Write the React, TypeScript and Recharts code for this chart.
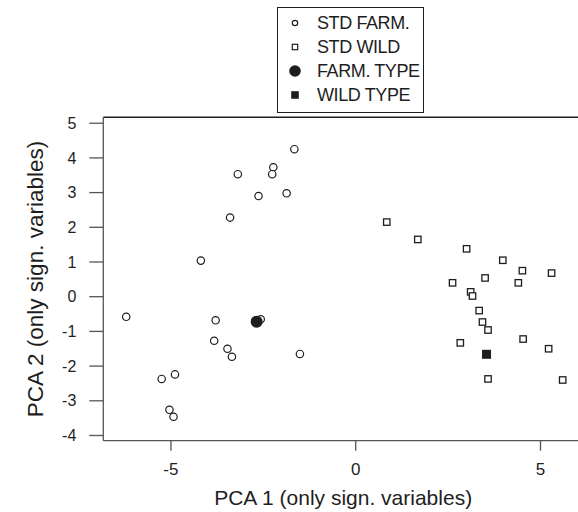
import React from "react";
import { ScatterChart, Scatter, XAxis, YAxis, ReferenceLine } from "recharts";

const stdFarm = [
  { x: -1.66, y: 4.25 }, { x: -2.23, y: 3.73 }, { x: -2.26, y: 3.53 },
  { x: -3.19, y: 3.53 }, { x: -2.63, y: 2.9 }, { x: -1.87, y: 2.98 },
  { x: -3.4, y: 2.28 }, { x: -4.19, y: 1.04 }, { x: -6.21, y: -0.58 },
  { x: -3.79, y: -0.68 }, { x: -2.57, y: -0.65 }, { x: -2.72, y: -0.7 },
  { x: -3.83, y: -1.27 }, { x: -3.47, y: -1.5 }, { x: -3.35, y: -1.73 },
  { x: -1.51, y: -1.65 }, { x: -5.25, y: -2.37 }, { x: -4.89, y: -2.24 },
  { x: -5.04, y: -3.26 }, { x: -4.93, y: -3.46 },
];

const stdWild = [
  { x: 0.84, y: 2.15 }, { x: 1.68, y: 1.65 }, { x: 3.0, y: 1.38 },
  { x: 3.98, y: 1.05 }, { x: 4.51, y: 0.75 }, { x: 5.3, y: 0.68 },
  { x: 3.5, y: 0.54 }, { x: 2.62, y: 0.4 }, { x: 4.4, y: 0.4 },
  { x: 3.11, y: 0.14 }, { x: 3.16, y: 0.02 }, { x: 3.34, y: -0.4 },
  { x: 3.43, y: -0.73 }, { x: 3.58, y: -0.96 }, { x: 2.83, y: -1.33 },
  { x: 4.53, y: -1.22 }, { x: 5.22, y: -1.5 }, { x: 3.58, y: -2.37 },
  { x: 5.6, y: -2.4 },
];

const farmType = [{ x: -2.68, y: -0.72 }];
const wildType = [{ x: 3.54, y: -1.66 }];

const xTicks = [-5, 0, 5];
const yTicks = [-4, -3, -2, -1, 0, 1, 2, 3, 4, 5];
const xDomain = [-6.83, 6.15];
const yDomain = [-4.15, 5.17];

const legendItems = ["STD FARM.", "STD WILD", "FARM. TYPE", "WILD TYPE"];

const FONT = '"Liberation Sans", Arial, sans-serif';
const INK = "#1e1e1e";
const AXIS = "#555";

const OpenCircle = (p: any) => (
  <circle cx={p.cx} cy={p.cy} r={3.7} fill="#fff" stroke={INK} strokeWidth={1.2} />
);
const OpenSquare = (p: any) => (
  <rect x={p.cx - 3.2} y={p.cy - 3.2} width={6.4} height={6.4} fill="#fff" stroke={INK} strokeWidth={1.3} />
);
const FilledCircle = (p: any) => <circle cx={p.cx} cy={p.cy} r={6} fill={INK} />;
const FilledSquare = (p: any) => (
  <rect x={p.cx - 4.5} y={p.cy - 4.5} width={9} height={9} fill={INK} />
);

const legendIcon = (i: number) => {
  if (i === 0) return <circle cx={8} cy={8} r={2.7} fill="none" stroke={INK} strokeWidth={1.2} />;
  if (i === 1) return <rect x={5.3} y={5.3} width={5.4} height={5.4} fill="none" stroke={INK} strokeWidth={1.2} />;
  if (i === 2) return <circle cx={8} cy={8} r={5.8} fill={INK} />;
  return <rect x={4.2} y={4.2} width={7.6} height={7.6} fill={INK} />;
};

const App = () => {
  return (
    <div style={{ position: "absolute", left: 0, top: 0, width: 578, height: 512, overflow: "hidden", background: "#fff", fontFamily: FONT }}>
      <ScatterChart width={583} height={512} margin={{ top: 117.3, right: 0, bottom: 0, left: 0 }}>
        <XAxis
          type="number"
          dataKey="x"
          domain={xDomain}
          ticks={xTicks}
          interval={0}
          allowDataOverflow
          height={71.3}
          tickSize={10}
          tickMargin={12}
          axisLine={{ stroke: AXIS, strokeWidth: 1.3 }}
          tickLine={{ stroke: AXIS, strokeWidth: 1.3 }}
          tick={{ fill: INK, fontSize: 17, fontFamily: FONT }}
          label={{
            content: (props: any) => {
              const vb = props.viewBox;
              return (
                <text x={vb.x + vb.width / 2} y={505} textAnchor="middle" fill={INK} fontSize={21} fontFamily={FONT}>
                  PCA 1 (only sign. variables)
                </text>
              );
            },
          }}
        />
        <YAxis
          type="number"
          dataKey="y"
          domain={yDomain}
          ticks={yTicks}
          interval={0}
          allowDataOverflow
          width={103.3}
          tickSize={14}
          tickMargin={13}
          axisLine={{ stroke: AXIS, strokeWidth: 1.3 }}
          tickLine={{ stroke: AXIS, strokeWidth: 1.3 }}
          tick={{ fill: INK, fontSize: 16, fontFamily: FONT }}
          label={{
            content: (props: any) => {
              const vb = props.viewBox;
              const cx = 42.7;
              const cy = vb.y + vb.height / 2;
              return (
                <text x={cx} y={cy} transform={`rotate(-90 ${cx} ${cy})`} textAnchor="middle" fill={INK} fontSize={22.5} fontFamily={FONT}>
                  PCA 2 (only sign. variables)
                </text>
              );
            },
          }}
        />
        <ReferenceLine y={yDomain[1]} stroke={INK} strokeWidth={1.5} />
        <Scatter data={stdFarm} shape={OpenCircle} isAnimationActive={false} />
        <Scatter data={stdWild} shape={OpenSquare} isAnimationActive={false} />
        <Scatter data={farmType} shape={FilledCircle} isAnimationActive={false} />
        <Scatter data={wildType} shape={FilledSquare} isAnimationActive={false} />
      </ScatterChart>
      <div
        style={{
          position: "absolute",
          left: 277,
          top: 7,
          width: 145,
          height: 101,
          border: `1px solid ${INK}`,
          background: "#fff",
          paddingTop: 3,
          boxSizing: "content-box",
        }}
      >
        {legendItems.map((name, i) => (
          <div key={name} style={{ height: 24, display: "flex", alignItems: "center" }}>
            <svg width={16} height={16} style={{ marginLeft: 9, flex: "none" }}>
              {legendIcon(i)}
            </svg>
            <span style={{ marginLeft: 14, fontSize: 18, letterSpacing: -0.4, color: INK, whiteSpace: "nowrap" }}>{name}</span>
          </div>
        ))}
      </div>
    </div>
  );
};

export default App;
